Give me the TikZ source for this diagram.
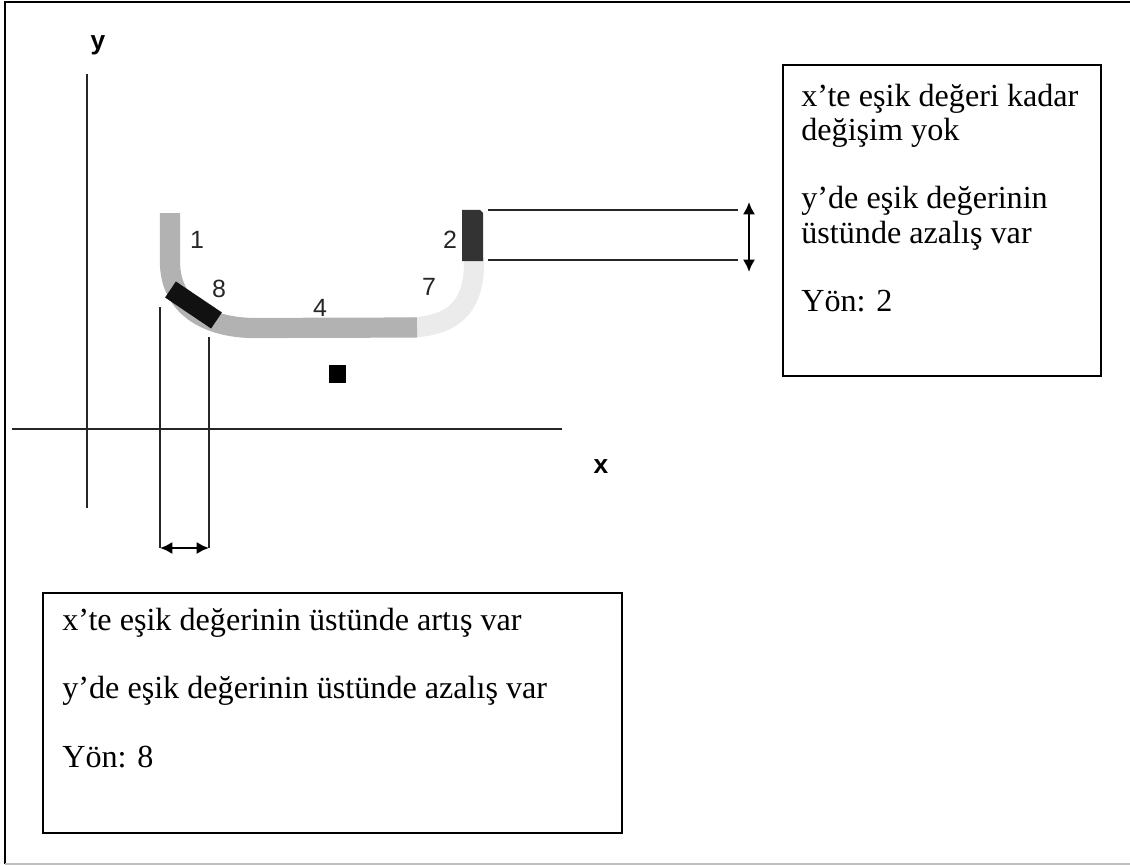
\documentclass[tikz,border=0pt]{standalone}
\usepackage{fontspec}
\setmainfont{Liberation Serif}
\newfontfamily\arialf{Liberation Sans}
\usetikzlibrary{arrows.meta}
\definecolor{bandgray}{HTML}{B2B2B2}
\definecolor{bandlight}{HTML}{EBEBEB}
\definecolor{banddark}{HTML}{333333}
\definecolor{bandblack}{HTML}{111111}
\begin{document}
\begin{tikzpicture}[x=0.02cm,y=-0.02cm,
  thinline/.style={line width=0.85pt, draw=black!85},
  dimarrow/.style={line width=1.4pt, {Latex[length=7pt,width=7pt]}-{Latex[length=7pt,width=7pt]}},
  band/.style={line width=11.5pt, line cap=butt},
  numlbl/.style={font=\arialf\fontsize{14.2pt}{16pt}\selectfont, text=black!85, inner sep=0},
  axlbl/.style={font=\arialf\bfseries\fontsize{15pt}{17pt}\selectfont, inner sep=0},
  txtbox/.style={draw, line width=1.1pt, inner sep=0, anchor=north west},
  boxtext/.style={anchor=north west, align=left, inner sep=0, font=\fontsize{18.3pt}{19.4pt}\selectfont}]
\useasboundingbox (0,0) rectangle (1130,865);
% frame
\coordinate (fTL) at (5,2);
\coordinate (fTR) at (1130,2);
\coordinate (fBL) at (5,864);
\coordinate (fBR) at (1130,864);
\draw[line width=1.2pt] (fTR) -- (fTL) -- (fBL);
\draw[line width=0.8pt, draw=black!25] (fBL) -- (fBR);
% axes
\coordinate (yTop) at (87,74);
\coordinate (yBot) at (87,508);
\coordinate (xL) at (12,429);
\coordinate (xR) at (562,429);
\draw[thinline] (yTop) -- (yBot);
\draw[thinline] (xL) -- (xR);
\node[axlbl] (ylab) at (98,45) {y};
\node[axlbl] (xlab) at (601,467) {x};
% curve bands
\coordinate (s7a) at (410,327.5);
\coordinate (s7b) at (474,258);
\draw[band, draw=bandlight] (s7a) .. controls (460,326) and (475,300) .. (s7b);
\coordinate (s1a) at (170,213);
\coordinate (s4b) at (417,327.5);
\draw[band, draw=bandgray] (s1a) -- (170,262) .. controls (170,305) and (205,328) .. (255,328) -- (s4b);
\coordinate (s8a) at (170.5,289.5);
\coordinate (s8b) at (216.5,320.5);
\draw[line width=11pt, line cap=butt, draw=bandblack] (s8a) -- (s8b);
\fill[banddark] (462,210) -- (480,210) -- (483,213) -- (483,261) -- (462,261) -- cycle;
% segment labels
\node[numlbl] (n1) at (197,240) {1};
\node[numlbl] (n8) at (219,289) {8};
\node[numlbl] (n4) at (320,308) {4};
\node[numlbl] (n7) at (429,287) {7};
\node[numlbl] (n2) at (450,240) {2};
% centre mark
\fill (329,365) rectangle (346,383);
% right dimension
\coordinate (r1a) at (488,210);
\coordinate (r1b) at (738,210);
\coordinate (r2a) at (488,260);
\coordinate (r2b) at (738,260);
\coordinate (raT) at (749,202);
\coordinate (raB) at (749,272);
\draw[thinline] (r1a) -- (r1b);
\draw[thinline] (r2a) -- (r2b);
\draw[dimarrow] (raT) -- (raB);
% left dimension
\coordinate (l1a) at (160,307);
\coordinate (l1b) at (160,548);
\coordinate (l2a) at (209,337);
\coordinate (l2b) at (209,548);
\draw[thinline] (l1a) -- (l1b);
\draw[thinline] (l2a) -- (l2b);
\draw[dimarrow] (l1b) -- (l2b);
% text boxes
\node[txtbox, minimum width=6.36cm, minimum height=6.22cm] (boxR) at (782,64) {};
\node[boxtext] (txtR) at (801,84) {x’te eşik değeri kadar\\değişim yok\\[19.4pt]y’de eşik değerinin\\üstünde azalış var\\[19.4pt]Yön: 2};
\node[txtbox, minimum width=11.58cm, minimum height=4.8cm] (boxB) at (42,592) {};
\node[boxtext] (txtB) at (62,608) {x’te eşik değerinin üstünde artış var\\[19.4pt]y’de eşik değerinin üstünde azalış var\\[19.4pt]Yön: 8};
\end{tikzpicture}
\end{document}
